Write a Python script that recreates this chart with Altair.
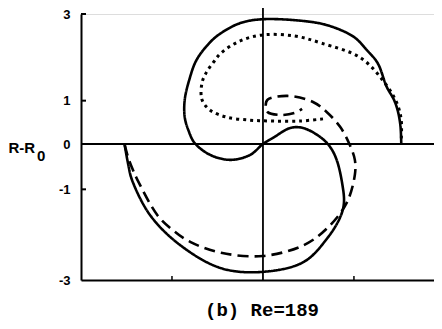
import altair as alt
import pandas as pd

# ---- data ----
solid_x = [1.52, 1.51, 1.48, 1.44, 1.36, 1.26, 1.14, 1.00, 0.74, 0.52, 0.00, -0.25, -0.46, -0.58, -0.73, -0.81,
           -0.86, -0.86, -0.82, -0.75, -0.58, -0.36, -0.14, 0.00, 0.11, 0.30, 0.44, 0.63, 0.74, 0.81, 0.87,
           0.89, 0.85, 0.71, 0.45, 0.00, -0.46, -0.91, -1.24, -1.44, -1.48, -1.52]
solid_y = [0.02, 0.44, 0.78, 1.02, 1.32, 1.87, 2.17, 2.47, 2.72, 2.82, 2.88, 2.79, 2.56, 2.35, 1.94, 1.48,
           1.02, 0.62, 0.32, 0.02, -0.24, -0.35, -0.24, 0.00, 0.14, 0.37, 0.37, 0.16, -0.07, -0.35, -0.86,
           -1.30, -1.61, -2.07, -2.60, -2.82, -2.74, -2.23, -1.57, -0.79, -0.46, -0.02]

dashed_x = [-1.52, -1.48, -1.43, -1.38, -1.16, -0.99, -0.80, -0.46, 0.00, 0.45, 0.71, 0.92, 1.01, 1.01,
            0.95, 0.85, 0.70, 0.55, 0.27, 0.05, 0.03, 0.05, 0.19, 0.35, 0.43]
dashed_y = [-0.02, -0.31, -0.57, -0.79, -1.57, -1.90, -2.16, -2.40, -2.47, -2.23, -1.85, -1.30, -0.68, -0.35,
            0.00, 0.39, 0.74, 0.97, 1.11, 1.02, 0.88, 0.74, 0.67, 0.72, 0.81]

dotted_x = [0.66, 0.41, 0.11, -0.14, -0.40, -0.58, -0.67, -0.67, -0.62, -0.55, -0.46, -0.25, 0.01, 0.35,
            0.64, 1.08, 1.37, 1.48, 1.52, 1.52]
dotted_y = [0.58, 0.53, 0.53, 0.55, 0.62, 0.78, 1.02, 1.41, 1.66, 1.87, 2.10, 2.38, 2.52, 2.49,
            2.33, 1.98, 1.32, 0.90, 0.55, 0.09]

y_ticks = [3, 1, 0, -1, -3]
y_minor = [3, 1, -1]
x_minor = [-1, 1]
y_title = "R-R"
y_sub = "0"
caption = "(b) Re=189"

W, H = 353, 266
xscale = alt.Scale(domain=[-2, 1.88], nice=False, zero=False)
yscale = alt.Scale(domain=[-3, 0, 3], range=[H, 130, 0], nice=False, zero=False)

x_axis = alt.Axis(labels=False, ticks=False, grid=False, domain=True, domainColor="black",
                  domainWidth=2, title=caption, titleFont="Liberation Mono",
                  titleFontWeight="bold", titleFontSize=19, titleColor="black",
                  titleX=180.5, titleY=35, titleAlign="center", titleBaseline="alphabetic")
y_axis = alt.Axis(values=y_ticks, ticks=False, grid=False, domain=True,
                  domainColor="black", domainWidth=2, labelFont="Liberation Sans",
                  labelFontWeight="bold", labelFontSize=13, labelColor="black",
                  labelPadding=11, labelExpr="'' + datum.value",
                  title=y_title, titleAngle=0, titleAlign="left", titleBaseline="middle",
                  titleX=-73, titleY=133, titleFont="Liberation Sans",
                  titleFontWeight="bold", titleFontSize=15, titleColor="black")


def curve(xs, ys, dash, sw):
    df = pd.DataFrame({"x": xs, "y": ys, "i": range(len(xs))})
    return alt.Chart(df).mark_line(
        color="black", strokeWidth=sw, strokeDash=dash, interpolate="catmull-rom", clip=False
    ).encode(
        x=alt.X("x:Q", scale=xscale, axis=x_axis),
        y=alt.Y("y:Q", scale=yscale, axis=y_axis),
        order="i:Q",
    )


solid = curve(solid_x, solid_y, [1, 0], 2.6)
dashed = curve(dashed_x, dashed_y, [11, 6], 2.6)
dotted = curve(dotted_x, dotted_y, [3, 4], 3)

zero_line = alt.Chart(pd.DataFrame({"y": [0]})).mark_rule(color="black", strokeWidth=1.8).encode(
    y=alt.Y("y:Q", scale=yscale, axis=y_axis), x=alt.value(0), x2=alt.value(W))
vert_line = alt.Chart(pd.DataFrame({"x": [0]})).mark_rule(color="black", strokeWidth=1.8, clip=False).encode(
    x=alt.X("x:Q", scale=xscale, axis=x_axis), y=alt.value(H), y2=alt.value(-7))
yt = alt.Chart(pd.DataFrame({"y": y_minor})).mark_rule(color="black", strokeWidth=2).encode(
    y=alt.Y("y:Q", scale=yscale, axis=y_axis), x=alt.value(0), x2=alt.value(5))
xt = alt.Chart(pd.DataFrame({"x": x_minor})).mark_rule(color="black", strokeWidth=1.5).encode(
    x=alt.X("x:Q", scale=xscale, axis=x_axis), y=alt.value(H), y2=alt.value(H - 4))
sub = alt.Chart(pd.DataFrame({"t": [y_sub]})).mark_text(
    font="Liberation Sans", fontWeight="bold", fontSize=15, align="left", baseline="middle", color="black"
).encode(text="t:N", x=alt.value(-44), y=alt.value(142))

chart = alt.layer(solid, dashed, dotted, zero_line, vert_line, yt, xt, sub).properties(
    width=W, height=H, autosize=alt.AutoSizeParams(type="none"),
    padding={"left": 73, "top": 6, "right": 0, "bottom": 42},
).configure_view(stroke=None).configure(background="white")

chart.save("out.html", embed_options={"renderer": "svg", "actions": False})
